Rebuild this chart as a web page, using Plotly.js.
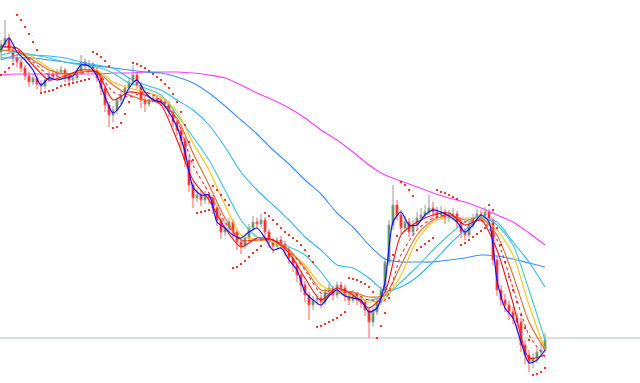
<!DOCTYPE html>
<html>
<head>
<meta charset="utf-8">
<script src="https://cdn.plot.ly/plotly-3.0.1.min.js"></script>
<style>
  html, body { margin: 0; padding: 0; background: #ffffff; }
  #chart { width: 640px; height: 383px; }
</style>
</head>
<body>
<div id="chart"></div>
<script>
// ---- Price bars (arbitrary price units) ----
const opens  = [348,355,362,350,342,338,332,324,318,322,316,314,320,326,324,328,330,324,320,322,328,338,334,336,330,322,312,295,285,290,300,305,312,318,325,315,300,296,300,302,300,298,296,288,278,270,260,240,215,202,205,200,205,202,192,180,168,172,178,168,158,154,162,172,178,176,180,168,158,154,160,156,150,142,135,125,115,105,95,100,102,98,108,112,105,115,112,104,100,106,100,98,90,78,88,98,110,138,175,195,185,172,178,168,175,182,185,188,192,188,185,188,182,184,186,178,168,165,175,182,186,184,188,180,140,110,100,95,88,82,78,55,45,38,42,48,50];
const highs  = [360,380,366,353,346,341,335,328,326,324,320,323,329,330,331,334,332,327,326,332,345,341,340,338,333,324,314,298,294,303,309,315,322,335,328,318,304,303,306,305,303,301,299,291,282,273,263,243,218,212,210,209,208,205,195,183,178,182,181,171,162,166,176,184,182,186,183,171,162,163,164,159,153,146,138,129,119,108,104,106,105,112,116,114,118,118,115,107,110,108,104,101,93,92,102,114,142,180,215,200,190,184,182,180,188,192,195,205,198,193,194,191,190,192,189,181,172,179,186,191,190,193,191,183,144,115,106,99,93,87,82,60,50,47,52,56,67];
const lows   = [340,352,346,338,333,328,320,313,315,311,307,311,318,320,321,325,318,313,317,320,325,331,330,326,318,305,288,273,278,286,296,302,309,315,311,292,288,293,297,296,294,291,283,273,264,253,233,208,192,198,194,196,196,186,174,161,164,169,162,150,146,151,159,169,171,173,163,152,147,150,151,144,136,128,118,108,98,80,90,95,92,95,104,100,102,108,99,95,97,95,92,84,62,73,85,95,107,134,170,180,166,168,163,164,171,179,182,185,183,180,182,176,178,180,172,162,160,162,172,179,180,182,176,135,104,94,88,80,76,70,48,36,28,32,37,44,47];
const closes = [355,362,350,342,338,332,324,318,322,316,314,320,326,324,328,330,324,320,322,328,338,334,336,330,322,312,295,285,290,300,305,312,318,325,315,300,296,300,302,300,298,296,288,278,270,260,240,215,202,205,200,205,202,192,180,168,172,178,168,158,154,162,172,178,176,180,168,158,154,160,156,150,142,135,125,115,105,95,100,102,98,108,112,105,115,112,104,100,106,100,98,90,78,88,98,110,138,175,195,185,172,178,168,175,182,185,188,192,188,185,188,182,184,186,178,168,165,175,182,186,184,188,180,140,110,100,95,88,82,78,55,45,38,42,48,50,60];

// ---- Parabolic SAR, one value per bar ----
const sar = [325,328,332,336,385,380,373,366,358,350,307,308,309,310,312,314,315,316,317,318,319,320,321,348,346,343,339,334,272,273,277,286,298,337,336,334,332,329,326,323,320,316,312,306,298,288,275,258,240,187,188,189,190,214,210,205,200,195,132,133,136,139,143,147,150,154,187,184,180,176,172,168,165,162,159,155,150,144,138,73,74,76,78,80,82,85,88,122,121,120,118,116,113,108,62,74,87,102,145,164,218,215,210,204,150,153,156,159,162,210,208,207,205,203,201,155,157,160,163,166,169,172,195,190,172,155,138,123,110,98,85,72,60,25,26,28,32];

// ---- Moving averages ----
const fastIdx = [0,2,4,6,8,10,12,14,16,18,20,22,24,26,28,30,32,34,36,38,40,42,44,46,48,50,52,54,56,58,60,62,64,66,68,70,72,74,76,78,80,82,84,86,88,90,92,94,96,98,100,102,104,106,108,110,112,114,116,118,120,122,124,126,128,130,132,134,136];
const maBlue = [350,362,348,340,330,315,322,320,322,324,335,334,324,303,287,295,312,320,308,300,298,288,273,248,213,205,205,178,172,165,162,168,172,162,150,152,140,130,108,100,95,104,110,104,102,100,88,92,118,178,188,175,175,185,190,188,184,178,168,175,185,178,120,92,82,58,37,40,50];

const maIdx = [0,4,8,12,16,20,24,28,32,36,40,44,48,52,56,60,64,68,72,76,80,84,88,92,96,100,104,108,112,116,120,124,128,132,136];
const maRed       = [353,352,335,320,324,330,328,300,308,305,295,260,220,200,172,153,162,160,147,122,100,112,105,92,108,165,178,185,187,175,180,150,97,42,45];
const maRedDot    = [355,350,338,325,323,327,328,308,303,308,300,280,235,207,178,160,160,160,150,130,107,108,107,100,100,145,170,182,185,178,180,160,112,65,43];
const maSienna    = [350,348,340,330,326,328,328,315,305,300,297,282,247,215,182,160,160,160,150,132,110,110,108,103,105,135,165,180,185,180,182,165,125,78,50];
const maGold      = [350,348,343,332,325,328,330,318,312,308,303,288,257,230,195,165,160,158,148,135,115,108,105,98,102,125,160,178,183,182,182,170,145,95,50];
const maTurquoise = [345,348,345,342,338,335,333,327,317,312,305,285,263,240,210,180,163,158,153,145,128,108,102,100,104,118,133,150,165,178,184,175,155,110,60];
const maDeepSky   = [340,345,345,344,342,338,335,332,322,315,310,300,290,275,253,228,210,195,180,163,150,135,132,122,109,113,123,138,155,170,182,178,158,138,113];
const maDodger    = [342,342,342,340,338,336,334,332,330,328,327,323,317,307,294,280,266,250,236,220,206,187,173,155,141,138,138,138,140,142,145,144,141,137,133];
const maMagenta   = [325,326,326,326,326,326,326,327,327,328,328,328,327,325,322,315,307,300,292,282,270,260,248,235,225,219,213,207,202,198,192,185,178,167,155];

const bidLevel = 62;

const bars = opens.map((_, i) => i);

function ma(x, y, color, width, dash) {
  return {type: 'scatter', mode: 'lines', x: x, y: y, hoverinfo: 'skip',
          line: {color: color, width: width, shape: 'spline', smoothing: 0.7, dash: dash || 'solid'}};
}

const traces = [
  {type: 'candlestick', x: bars, open: opens, high: highs, low: lows, close: closes,
   hoverinfo: 'skip', whiskerwidth: 0,
   increasing: {line: {color: '#9a9a9a', width: 1}, fillcolor: '#1f9e1f'},
   decreasing: {line: {color: '#ff5a5a', width: 1}, fillcolor: '#ff0000'}},
  ma(maIdx, maMagenta, '#ff3cff', 1.1),
  ma(maIdx, maDodger, '#3d8eff', 1.1),
  ma(maIdx, maDeepSky, '#33b5ff', 1.1),
  ma(maIdx, maTurquoise, '#3cc8cc', 1.1),
  ma(maIdx, maGold, '#ffc20e', 1.1),
  ma(maIdx, maSienna, '#dd6a28', 1.1),
  ma(maIdx, maRedDot, '#ff2a2a', 1.1, 'dot'),
  ma(maIdx, maRed, '#f01010', 1.1),
  ma(fastIdx, maBlue, '#1010ff', 1.2),
  {type: 'scatter', mode: 'markers', x: bars, y: sar, hoverinfo: 'skip',
   marker: {color: '#ff0000', size: 2.2, symbol: 'circle'}}
];

const layout = {
  width: 640, height: 383,
  margin: {l: 0, r: 0, t: 0, b: 0, pad: 0},
  paper_bgcolor: '#ffffff', plot_bgcolor: '#ffffff',
  showlegend: false,
  xaxis: {range: [-0.25, 159.75], visible: false, showgrid: false, zeroline: false,
          rangeslider: {visible: false}, fixedrange: true},
  yaxis: {range: [17, 400], visible: false, showgrid: false, zeroline: false, fixedrange: true},
  shapes: [{type: 'line', xref: 'paper', x0: 0, x1: 1, yref: 'y', y0: bidLevel, y1: bidLevel,
            line: {color: '#b8bec4', width: 1}, layer: 'below'}]
};

Plotly.newPlot('chart', traces, layout, {displayModeBar: false, staticPlot: true});
</script>
</body>
</html>
